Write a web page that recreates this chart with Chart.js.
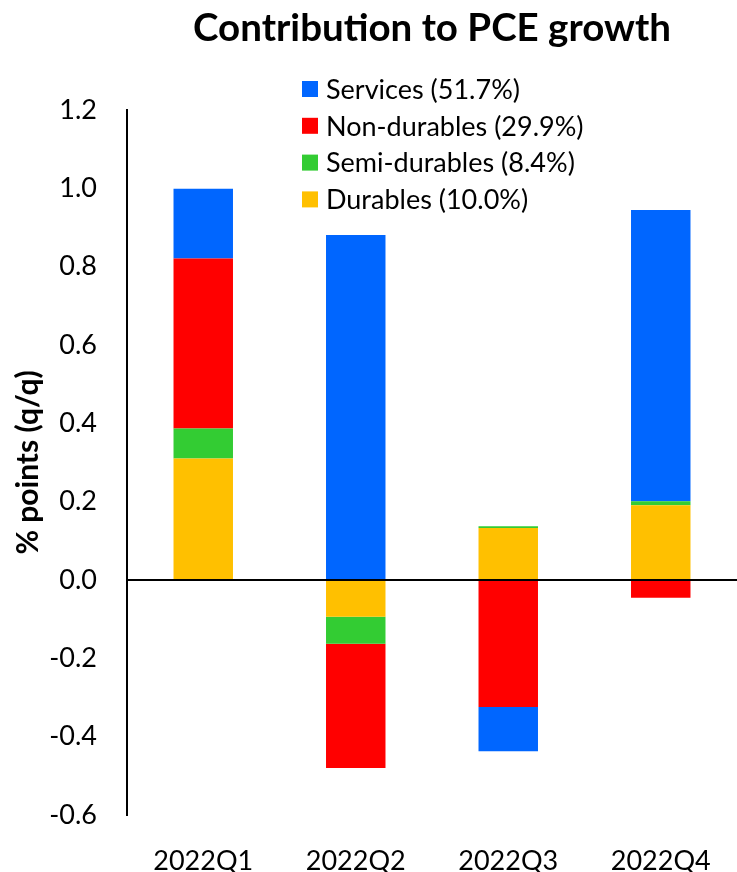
<!DOCTYPE html>
<html>
<head>
<meta charset="utf-8">
<script src="https://cdn.jsdelivr.net/npm/chart.js@4"></script>
<style>
  body { margin: 0; background: #fff; }
  #wrap { position: relative; width: 737px; height: 872px; }
</style>
</head>
<body>
<div id="wrap"><canvas id="chart"></canvas></div>
<script>
const quarters = ['2022Q1', '2022Q2', '2022Q3', '2022Q4']
const durables = [0.31, -0.094, 0.133, 0.191]
const semiDurables = [0.077, -0.069, 0.004, 0.01]
const nonDurables = [0.434, -0.317, -0.324, -0.045]
const services = [0.178, 0.881, -0.113, 0.744]
const yTicks = { min: -0.6, max: 1.2, step: 0.2 }

const FONT = 'Lato'

// title centred over the plot area, not the whole canvas
const titlePlugin = {
    id: 'plotTitle',
    afterDraw(chart) {
        const ctx = chart.ctx
        const area = chart.chartArea
        ctx.save()
        ctx.font = 'bold 38.5px ' + FONT
        ctx.fillStyle = '#000'
        ctx.textAlign = 'center'
        ctx.textBaseline = 'middle'
        ctx.fillText('Contribution to PCE growth', (area.left + area.right) / 2, 29)
        ctx.restore()
    }
}

// vertical legend listed top-down, services first
const legendPlugin = {
    id: 'boxLegend',
    afterDraw(chart) {
        const ctx = chart.ctx
        const sets = chart.data.datasets.slice().reverse()
        ctx.save()
        ctx.font = '27px ' + FONT
        ctx.textBaseline = 'middle'
        for (let i = 0; i < sets.length; i++) {
            const y = 89 + i * 36.8
            ctx.fillStyle = sets[i].backgroundColor
            ctx.fillRect(302, y - 8, 16, 16)
            ctx.fillStyle = '#000'
            ctx.fillText(sets[i].label, 326, y + 1)
        }
        ctx.restore()
    }
}

new Chart(document.getElementById('chart'), {
    type: 'bar',
    data: {
        labels: quarters,
        datasets: [
            { label: 'Durables (10.0%)', data: durables, backgroundColor: '#FFC000' },
            { label: 'Semi-durables (8.4%)', data: semiDurables, backgroundColor: '#33CC33' },
            { label: 'Non-durables (29.9%)', data: nonDurables, backgroundColor: '#FF0000' },
            { label: 'Services (51.7%)', data: services, backgroundColor: '#0066FF' }
        ]
    },
    options: {
        responsive: true,
        maintainAspectRatio: false,
        animation: false,
        layout: { padding: { top: 110, right: 0, bottom: 0, left: 0 } },
        datasets: { bar: { barPercentage: 0.39, categoryPercentage: 1, borderWidth: 0 } },
        plugins: {
            legend: { display: false },
            title: { display: false },
            tooltip: { enabled: false }
        },
        scales: {
            x: {
                stacked: true,
                grid: { display: false },
                border: { display: false },
                afterFit(scale) { scale.height = 57 },
                ticks: { color: '#000', font: { family: FONT, size: 27 }, padding: 22, maxRotation: 0 }
            },
            y: {
                stacked: true,
                min: yTicks.min,
                max: yTicks.max,
                afterFit(scale) { scale.width = 127 },
                border: { display: true, color: '#000', width: 2 },
                grid: {
                    drawTicks: false,
                    lineWidth: 2,
                    color: (c) => (c.tick && Math.abs(c.tick.value) < 1e-9) ? '#000' : 'rgba(0,0,0,0)'
                },
                ticks: {
                    stepSize: yTicks.step,
                    color: '#000',
                    padding: 30,
                    font: { family: FONT, size: 27 },
                    callback: (v) => Number(v).toFixed(1)
                },
                title: {
                    display: true,
                    text: '% points (q/q)',
                    color: '#000',
                    font: { family: FONT, size: 30, weight: 'bold' },
                    padding: { top: 10, bottom: 0 }
                }
            }
        }
    },
    plugins: [titlePlugin, legendPlugin]
})
</script>
</body>
</html>
